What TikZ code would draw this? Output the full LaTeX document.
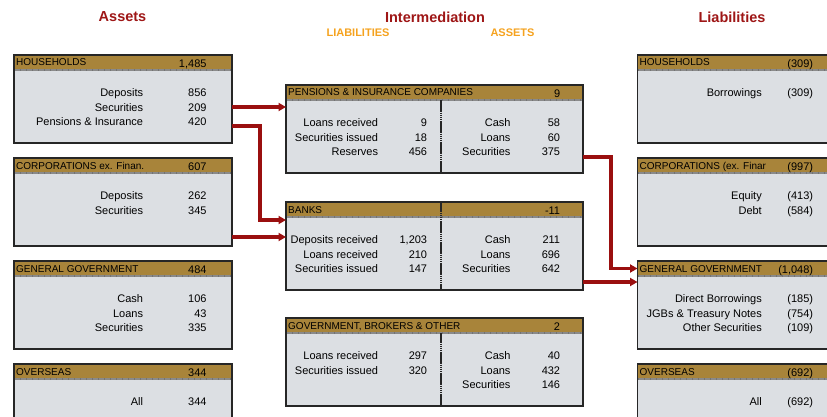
\documentclass[tikz,border=0pt]{standalone}
\usepackage{fontspec}
\setmainfont{Liberation Sans}
\usetikzlibrary{arrows.meta,positioning}
\definecolor{HeadGold}{HTML}{A8843A}
\definecolor{BodyGray}{HTML}{DCDFE3}
\definecolor{TickGray}{HTML}{8A8A8A}
\definecolor{FlowRed}{HTML}{9A0F0F}
\definecolor{TitleRed}{HTML}{9E1616}
\definecolor{SubOrange}{HTML}{F5A21E}

\begin{document}
\begin{tikzpicture}[x=1pt,y=-1pt,
    sectorbox/.style={
      rectangle,
      fill=BodyGray,
      draw=black!85,
      line width=1.2pt,
      minimum width=218pt,
      minimum height=88pt,
      inner sep=0pt,
      outer sep=0pt,
      anchor=north west,
      path picture={
        \fill[HeadGold] (path picture bounding box.north west)
          rectangle ([yshift=-13.8pt]path picture bounding box.north east);
        \draw[TickGray,line width=2.4pt]
          ([yshift=-15pt]path picture bounding box.north west)
          -- ([yshift=-15pt]path picture bounding box.north east);
        \draw[black!55,line width=2.4pt,dash pattern=on 0.5pt off 5.5pt]
          ([yshift=-15pt]path picture bounding box.north west)
          -- ([yshift=-15pt]path picture bounding box.north east);
      }
    },
    midbox/.style={sectorbox,minimum width=297pt},
    headlabel/.style={font=\fontsize{10}{12}\selectfont,anchor=base west,inner sep=0pt},
    headvalue/.style={font=\fontsize{11}{13}\selectfont,anchor=base east,inner sep=0pt},
    itemcol/.style={font=\fontsize{11}{14.5}\selectfont,align=right,anchor=north east,inner sep=0pt},
    maintitle/.style={font=\fontsize{14.5}{17}\selectfont\bfseries,text=TitleRed,inner sep=0pt},
    subtitle/.style={font=\fontsize{11}{13}\selectfont\bfseries,text=SubOrange,inner sep=0pt},
    divider/.style={draw=black!85,line width=1.1pt,dash pattern=on 1.6pt off 0.5pt},
    flow/.style={draw=FlowRed,line width=3.2pt,-{Triangle[length=7.5pt,width=8pt]}}
  ]
  \useasboundingbox (0,0) rectangle (827,417);
  \clip (0,0) rectangle (827,417);

  % column titles
  \node[maintitle] (assetstitle) at (122.5,17) {Assets};
  \node[maintitle] (intertitle) at (435,17) {Intermediation};
  \node[maintitle] (liabtitle) at (732,17) {Liabilities};
  \node[subtitle] (interliab) at (358,32.5) {LIABILITIES};
  \node[subtitle] (interassets) at (512.5,32.5) {ASSETS};

  % assets side
  \node[sectorbox] (hhassets) at (14,55) {};
  \node[sectorbox,below=15pt of hhassets] (corpassets) {};
  \node[sectorbox,below=15pt of corpassets] (govassets) {};
  \node[sectorbox,below=15pt of govassets] (overassets) {};

  \node[headlabel] (hhassets-head) at ([xshift=2pt,yshift=-11pt]hhassets.north west) {HOUSEHOLDS};
  \node[headvalue] (hhassets-total) at ([xshift=192.7pt,yshift=-12.5pt]hhassets.north west) {1,485};
  \node[itemcol] (hhassets-items) at ([xshift=129.3pt,yshift=-31.4pt]hhassets.north west)
    {\strut Deposits\\Securities\\Pensions \& Insurance};
  \node[itemcol] (hhassets-vals) at ([xshift=192.7pt,yshift=-31.4pt]hhassets.north west)
    {\strut 856\\209\\420};

  \node[headlabel] (corpassets-head) at ([xshift=2pt,yshift=-11pt]corpassets.north west) {CORPORATIONS ex. Finan.};
  \node[headvalue] (corpassets-total) at ([xshift=192.7pt,yshift=-12.5pt]corpassets.north west) {607};
  \node[itemcol] (corpassets-items) at ([xshift=129.3pt,yshift=-31.4pt]corpassets.north west)
    {\strut Deposits\\Securities};
  \node[itemcol] (corpassets-vals) at ([xshift=192.7pt,yshift=-31.4pt]corpassets.north west)
    {\strut 262\\345};

  \node[headlabel] (govassets-head) at ([xshift=2pt,yshift=-11pt]govassets.north west) {GENERAL GOVERNMENT};
  \node[headvalue] (govassets-total) at ([xshift=192.7pt,yshift=-12.5pt]govassets.north west) {484};
  \node[itemcol] (govassets-items) at ([xshift=129.3pt,yshift=-31.4pt]govassets.north west)
    {\strut Cash\\Loans\\Securities};
  \node[itemcol] (govassets-vals) at ([xshift=192.7pt,yshift=-31.4pt]govassets.north west)
    {\strut 106\\43\\335};

  \node[headlabel] (overassets-head) at ([xshift=2pt,yshift=-11pt]overassets.north west) {OVERSEAS};
  \node[headvalue] (overassets-total) at ([xshift=192.7pt,yshift=-12.5pt]overassets.north west) {344};
  \node[itemcol] (overassets-items) at ([xshift=129.3pt,yshift=-31.4pt]overassets.north west) {\strut All};
  \node[itemcol] (overassets-vals) at ([xshift=192.7pt,yshift=-31.4pt]overassets.north west) {\strut 344};

  % intermediaries
  \node[midbox] (pensions) at (286,85) {};
  \node[midbox,below=29pt of pensions] (banks) {};
  \node[midbox,below=28pt of banks] (brokers) {};

  \draw[divider] ([xshift=155pt,yshift=-15pt]pensions.north west) -- ([xshift=155pt]pensions.south west);
  \draw[divider] ([xshift=155pt]banks.north west) -- ([xshift=155pt]banks.south west);
  \draw[divider] ([xshift=155pt,yshift=-15pt]brokers.north west) -- ([xshift=155pt]brokers.south west);

  \node[headlabel] (pensions-head) at ([xshift=2pt,yshift=-11pt]pensions.north west) {PENSIONS \& INSURANCE COMPANIES};
  \node[headvalue] (pensions-total) at ([xshift=274.5pt,yshift=-12.5pt]pensions.north west) {9};
  \node[itemcol] (pensions-liab) at ([xshift=92.3pt,yshift=-31.4pt]pensions.north west)
    {\strut Loans received\\Securities issued\\Reserves};
  \node[itemcol] (pensions-liabvals) at ([xshift=141.3pt,yshift=-31.4pt]pensions.north west)
    {\strut 9\\18\\456};
  \node[itemcol] (pensions-assets) at ([xshift=224.7pt,yshift=-31.4pt]pensions.north west)
    {\strut Cash\\Loans\\Securities};
  \node[itemcol] (pensions-assetvals) at ([xshift=274.3pt,yshift=-31.4pt]pensions.north west)
    {\strut 58\\60\\375};

  \node[headlabel] (banks-head) at ([xshift=2pt,yshift=-11pt]banks.north west) {BANKS};
  \node[headvalue] (banks-total) at ([xshift=274.3pt,yshift=-12.5pt]banks.north west) {-11};
  \node[itemcol] (banks-liab) at ([xshift=92.3pt,yshift=-31.4pt]banks.north west)
    {\strut Deposits received\\Loans received\\Securities issued};
  \node[itemcol] (banks-liabvals) at ([xshift=141.3pt,yshift=-31.4pt]banks.north west)
    {\strut 1,203\\210\\147};
  \node[itemcol] (banks-assets) at ([xshift=224.7pt,yshift=-31.4pt]banks.north west)
    {\strut Cash\\Loans\\Securities};
  \node[itemcol] (banks-assetvals) at ([xshift=274.3pt,yshift=-31.4pt]banks.north west)
    {\strut 211\\696\\642};

  \node[headlabel] (brokers-head) at ([xshift=2pt,yshift=-11pt]brokers.north west) {GOVERNMENT, BROKERS \& OTHER};
  \node[headvalue] (brokers-total) at ([xshift=274.3pt,yshift=-12.5pt]brokers.north west) {2};
  \node[itemcol] (brokers-liab) at ([xshift=92.3pt,yshift=-31.4pt]brokers.north west)
    {\strut Loans received\\Securities issued};
  \node[itemcol] (brokers-liabvals) at ([xshift=141.3pt,yshift=-31.4pt]brokers.north west)
    {\strut 297\\320};
  \node[itemcol] (brokers-assets) at ([xshift=224.7pt,yshift=-31.4pt]brokers.north west)
    {\strut Cash\\Loans\\Securities};
  \node[itemcol] (brokers-assetvals) at ([xshift=274.3pt,yshift=-31.4pt]brokers.north west)
    {\strut 40\\432\\146};

  % liabilities side
  \node[sectorbox] (hhliab) at (637.5,55) {};
  \node[sectorbox,below=15pt of hhliab] (corpliab) {};
  \node[sectorbox,below=15pt of corpliab] (govliab) {};
  \node[sectorbox,below=15pt of govliab] (overliab) {};

  \node[headlabel] (hhliab-head) at ([xshift=2pt,yshift=-11pt]hhliab.north west) {HOUSEHOLDS};
  \node[headvalue] (hhliab-total) at ([xshift=175.8pt,yshift=-12.5pt]hhliab.north west) {(309)};
  \node[itemcol] (hhliab-items) at ([xshift=124.5pt,yshift=-31.4pt]hhliab.north west) {\strut Borrowings};
  \node[itemcol] (hhliab-vals) at ([xshift=175.8pt,yshift=-31.4pt]hhliab.north west) {\strut (309)};

  \node[headlabel] (corpliab-head) at ([xshift=2pt,yshift=-11pt]corpliab.north west) {CORPORATIONS (ex. Finar};
  \node[headvalue] (corpliab-total) at ([xshift=175.8pt,yshift=-12.5pt]corpliab.north west) {(997)};
  \node[itemcol] (corpliab-items) at ([xshift=124.5pt,yshift=-31.4pt]corpliab.north west)
    {\strut Equity\\Debt};
  \node[itemcol] (corpliab-vals) at ([xshift=175.8pt,yshift=-31.4pt]corpliab.north west)
    {\strut (413)\\(584)};

  \node[headlabel] (govliab-head) at ([xshift=2pt,yshift=-11pt]govliab.north west) {GENERAL GOVERNMENT};
  \node[headvalue] (govliab-total) at ([xshift=175.8pt,yshift=-12.5pt]govliab.north west) {(1,048)};
  \node[itemcol] (govliab-items) at ([xshift=124.5pt,yshift=-31.4pt]govliab.north west)
    {\strut Direct Borrowings\\JGBs \& Treasury Notes\\Other Securities};
  \node[itemcol] (govliab-vals) at ([xshift=175.8pt,yshift=-31.4pt]govliab.north west)
    {\strut (185)\\(754)\\(109)};

  \node[headlabel] (overliab-head) at ([xshift=2pt,yshift=-11pt]overliab.north west) {OVERSEAS};
  \node[headvalue] (overliab-total) at ([xshift=175.8pt,yshift=-12.5pt]overliab.north west) {(692)};
  \node[itemcol] (overliab-items) at ([xshift=124.5pt,yshift=-31.4pt]overliab.north west) {\strut All};
  \node[itemcol] (overliab-vals) at ([xshift=175.8pt,yshift=-31.4pt]overliab.north west) {\strut (692)};

  % flows
  \draw[flow] ([yshift=-8pt]hhassets.east) -- ([yshift=-8pt]hhassets.east -| pensions.west);
  \draw[flow] ([yshift=-27pt]hhassets.east) -- ++(28,0) |- ([yshift=26pt]banks.west);
  \draw[flow] ([yshift=-35pt]corpassets.east) -- ([yshift=-35pt]corpassets.east -| banks.west);
  \draw[flow] ([yshift=-28pt]pensions.east) -- ++(28,0) |- ([yshift=36.5pt]govliab.west);
  \draw[flow] ([yshift=-36pt]banks.east) -- ([yshift=-36pt]banks.east -| govliab.west);
\end{tikzpicture}
\end{document}
